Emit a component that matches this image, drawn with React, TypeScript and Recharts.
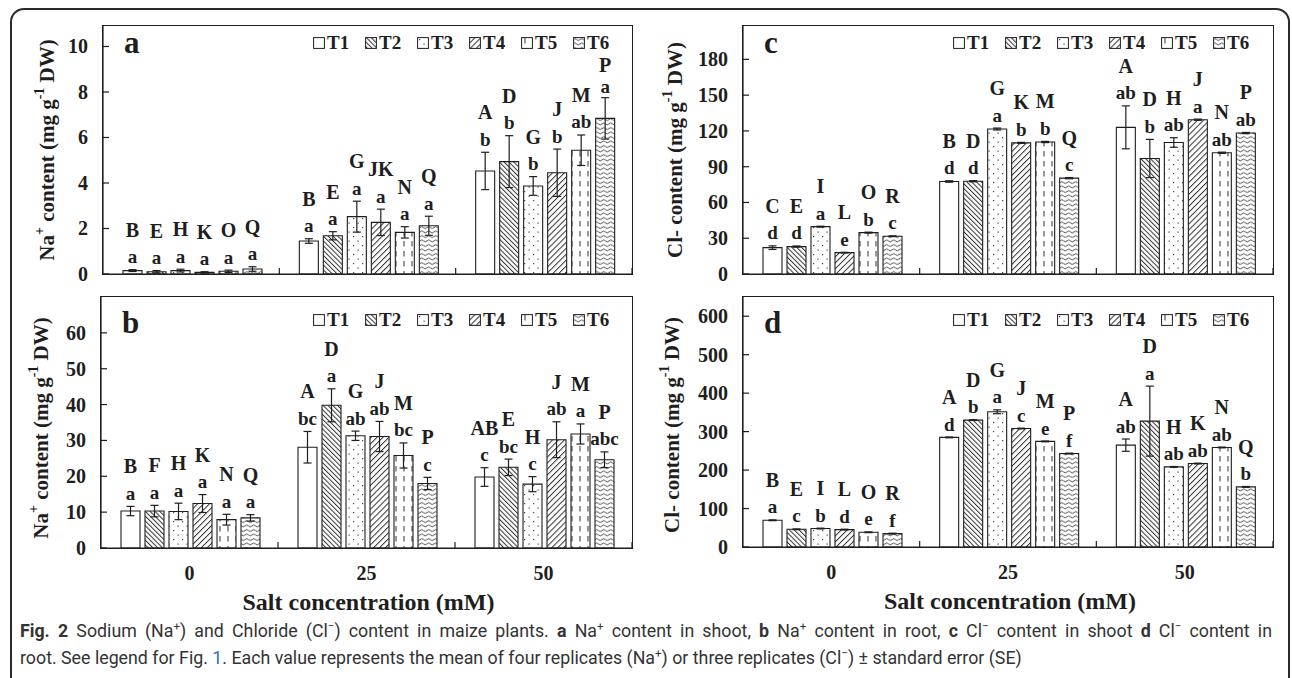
import React from 'react';
import { BarChart, Bar, XAxis, YAxis, ErrorBar, LabelList, Legend } from 'recharts';

const concentrations = ['0', '25', '50'];
const treatments = ['T1', 'T2', 'T3', 'T4', 'T5', 'T6'];
const fills = ['#fff', 'url(#hatchBack)', 'url(#dots)', 'url(#hatchFwd)', 'url(#dashV)', 'url(#wave)'];

// rows = T1..T6, columns = 0 / 25 / 50 mM
// a: Na+ in shoot
const naShootMean = [
  [0.15, 1.45, 4.53],
  [0.1, 1.68, 4.94],
  [0.15, 2.52, 3.87],
  [0.07, 2.27, 4.45],
  [0.12, 1.83, 5.44],
  [0.22, 2.12, 6.84],
];
const naShootSE = [
  [0.04, 0.1, 0.82],
  [0.05, 0.18, 1.14],
  [0.06, 0.68, 0.41],
  [0.03, 0.58, 1.04],
  [0.05, 0.25, 0.67],
  [0.1, 0.42, 0.91],
];
const naShootUpper = [
  ['B', 'B', 'A'],
  ['E', 'E', 'D'],
  ['H', 'G', 'G'],
  ['K', 'JK', 'J'],
  ['O', 'N', 'M'],
  ['Q', 'Q', 'P'],
];
const naShootLower = [
  ['a', 'a', 'b'],
  ['a', 'a', 'b'],
  ['a', 'a', 'b'],
  ['a', 'a', 'b'],
  ['a', 'a', 'ab'],
  ['a', 'a', 'a'],
];

// b: Na+ in root
const naRootMean = [
  [10.3, 28.1, 19.8],
  [10.3, 39.8, 22.5],
  [10.2, 31.3, 17.8],
  [12.4, 31.1, 30.2],
  [7.9, 25.8, 31.8],
  [8.4, 18.0, 24.6],
];
const naRootSE = [
  [1.3, 4.4, 2.6],
  [1.6, 4.6, 2.3],
  [2.3, 1.3, 2.1],
  [2.5, 4.2, 5.0],
  [1.5, 3.5, 2.8],
  [0.9, 1.7, 2.2],
];
const naRootUpper = [
  ['B', 'A', 'AB'],
  ['F', 'D', 'E'],
  ['H', 'G', 'H'],
  ['K', 'J', 'J'],
  ['N', 'M', 'M'],
  ['Q', 'P', 'P'],
];
const naRootLower = [
  ['a', 'bc', 'c'],
  ['a', 'a', 'bc'],
  ['a', 'ab', 'c'],
  ['a', 'ab', 'ab'],
  ['a', 'bc', 'a'],
  ['a', 'c', 'abc'],
];

// c: Cl- in shoot
const clShootMean = [
  [22.1, 77.6, 123.0],
  [23.0, 77.8, 96.9],
  [39.7, 121.6, 110.3],
  [17.9, 110.0, 129.4],
  [34.7, 110.7, 101.7],
  [31.7, 80.4, 118.2],
];
const clShootSE = [
  [1.5, 0.6, 18],
  [0.5, 0.5, 16],
  [0.4, 0.8, 4],
  [0.3, 0.4, 0.5],
  [0.4, 0.5, 0.5],
  [0.3, 0.5, 0.5],
];
const clShootUpper = [
  ['C', 'B', 'A'],
  ['E', 'D', 'D'],
  ['I', 'G', 'H'],
  ['L', 'K', 'J'],
  ['O', 'M', 'N'],
  ['R', 'Q', 'P'],
];
const clShootLower = [
  ['d', 'd', 'ab'],
  ['d', 'd', 'b'],
  ['a', 'a', 'ab'],
  ['e', 'b', 'a'],
  ['b', 'b', 'ab'],
  ['c', 'c', 'ab'],
];

// d: Cl- in root
const clRootMean = [
  [69.5, 284.9, 264.8],
  [46.0, 330.0, 327.3],
  [48.0, 351.6, 208.3],
  [45.3, 308.0, 217.0],
  [38.3, 274.5, 258.8],
  [34.9, 243.0, 156.3],
];
const clRootSE = [
  [1, 1, 16],
  [1, 1, 91],
  [1, 5, 1],
  [1, 1, 1],
  [1, 1, 1],
  [1, 1, 1],
];
const clRootUpper = [
  ['B', 'A', 'A'],
  ['E', 'D', 'D'],
  ['I', 'G', 'H'],
  ['L', 'J', 'K'],
  ['O', 'M', 'N'],
  ['R', 'P', 'Q'],
];
const clRootLower = [
  ['a', 'd', 'ab'],
  ['c', 'b', 'a'],
  ['b', 'a', 'ab'],
  ['d', 'c', 'ab'],
  ['e', 'e', 'ab'],
  ['f', 'f', 'b'],
];

const serif = '"Liberation Serif", "Times New Roman", serif';
const ink = '#1e1e1e';

const naTitle = (
  <>
    Na<tspan dy={-8} fontSize={14}>+</tspan>
    <tspan dy={8}> content (mg g</tspan>
    <tspan dy={-8} fontSize={14}>-1</tspan>
    <tspan dy={8}> DW)</tspan>
  </>
);
const clTitle = (
  <>
    Cl- content (mg g<tspan dy={-8} fontSize={14}>-1</tspan>
    <tspan dy={8}> DW)</tspan>
  </>
);

function Patterns() {
  return (
    <svg width={0} height={0} style={{ position: 'absolute' }}>
      <defs>
        <pattern id="hatchBack" width={3.4} height={3.4} patternUnits="userSpaceOnUse" patternTransform="rotate(-45)">
          <rect width={3.4} height={3.4} fill="#fff" />
          <line x1={0.5} y1={0} x2={0.5} y2={3.4} stroke="#333" strokeWidth={1} />
        </pattern>
        <pattern id="hatchFwd" width={4.2} height={4.2} patternUnits="userSpaceOnUse" patternTransform="rotate(45)">
          <rect width={4.2} height={4.2} fill="#fff" />
          <line x1={0.5} y1={0} x2={0.5} y2={4.2} stroke="#333" strokeWidth={1} />
        </pattern>
        <pattern id="dots" width={9} height={9} patternUnits="userSpaceOnUse">
          <rect width={9} height={9} fill="#fff" />
          <rect x={2} y={2} width={1.2} height={1.2} fill="#444" />
          <rect x={6.5} y={6.5} width={1.2} height={1.2} fill="#444" />
        </pattern>
        <pattern id="dashV" width={8} height={10} patternUnits="userSpaceOnUse">
          <rect width={8} height={10} fill="#fff" />
          <rect x={3.5} y={1} width={1} height={5.5} fill="#333" />
        </pattern>
        <pattern id="wave" width={7} height={4.5} patternUnits="userSpaceOnUse">
          <rect width={7} height={4.5} fill="#fff" />
          <path d="M0 2.5 Q1.75 0.6 3.5 2.5 T7 2.5" stroke="#333" strokeWidth={0.9} fill="none" />
        </pattern>
      </defs>
    </svg>
  );
}

type Rect = { l: number; t: number; r: number; b: number };

type PanelProps = {
  tag: string;
  tagDrop: number;
  yTitle: React.ReactNode;
  titleX: number;
  titleY: number;
  mean: number[][];
  se: number[][];
  upper: string[][];
  lower: string[][];
  yMax: number;
  yTicks: number[];
  box: { l: number; t: number; w: number; h: number };
  plot: Rect;
  legendY: number;
  showX: boolean;
};

function Panel(p: PanelProps) {
  const { box, plot } = p;
  const rows = concentrations.map((c, ci) => {
    const row: Record<string, string | number> = { conc: c };
    treatments.forEach((_, ti) => {
      row[`m${ti}`] = p.mean[ti][ci];
      row[`e${ti}`] = p.se[ti][ci];
    });
    return row;
  });
  const axisX = plot.l - box.l;
  const axisY = plot.b - box.t;
  const plotTop = plot.t - box.t;
  const plotW = plot.r - plot.l;
  const plotH = plot.b - plot.t;
  const band = plotW / concentrations.length;
  const ppu = plotH / p.yMax;

  const yTick = (tp: any) => (
    <g>
      <line x1={axisX} x2={axisX + 6} y1={tp.y} y2={tp.y} stroke={ink} strokeWidth={1.2} />
      <text x={axisX - 15} y={tp.y} textAnchor="end" dominantBaseline="central"
        style={{ fontFamily: serif, fontWeight: 700, fontSize: 20 }} fill={ink}>
        {tp.payload.value}
      </text>
    </g>
  );

  const xTick = (tp: any) => (
    <g>
      <line x1={tp.x + band / 2} x2={tp.x + band / 2} y1={axisY} y2={axisY - 6} stroke={ink} strokeWidth={1.2} />
      {p.showX && (
        <text x={tp.x} y={axisY + 25} textAnchor="middle" dominantBaseline="central"
          style={{ fontFamily: serif, fontWeight: 700, fontSize: 20 }} fill={ink}>
          {tp.payload.value}
        </text>
      )}
    </g>
  );

  const yLabel = () => (
    <g>
      <text transform={`translate(${p.titleX - box.l},${p.titleY - box.t}) rotate(-90)`}
        textAnchor="middle" dominantBaseline="central"
        style={{ fontFamily: serif, fontWeight: 700, fontSize: 21 }} fill={ink}>
        {p.yTitle}
      </text>
      <text x={axisX + 21} y={plotTop + p.tagDrop}
        style={{ fontFamily: serif, fontWeight: 700, fontSize: 31 }} fill={ink}>
        {p.tag}
      </text>
    </g>
  );

  const xLabel = () =>
    p.showX ? (
      <text x={axisX + plotW / 2 + 2} y={axisY + 54} textAnchor="middle" dominantBaseline="central"
        style={{ fontFamily: serif, fontWeight: 700, fontSize: 24 }} fill={ink}>
        Salt concentration (mM)
      </text>
    ) : null;

  const legend = () => (
    <div style={{ display: 'flex', alignItems: 'center', height: 22 }}>
      {treatments.map((t, i) => (
        <div key={t} style={{ width: 52, display: 'flex', alignItems: 'center', flex: 'none' }}>
          <svg width={12} height={12} style={{ marginRight: 2, flex: 'none' }}>
            <rect x={0.6} y={0.6} width={10.8} height={10.8} fill={fills[i]} stroke={ink} strokeWidth={1} />
          </svg>
          <span style={{ fontFamily: serif, fontWeight: 700, fontSize: 19, color: ink, lineHeight: '22px' }}>{t}</span>
        </div>
      ))}
    </div>
  );

  const letters = (ti: number) => (lp: any) => {
    const idx = lp.index as number;
    const cx = Number(lp.x) + Number(lp.width) / 2;
    const errTop = Number(lp.y) - Number(lp.value) * ppu;
    let lowY = errTop - 13;
    // keep the upper letter clear of the legend row
    const upY = Math.max(lowY - 27, plotTop + 39);
    lowY = Math.max(lowY, upY + 21);
    const st = { fontFamily: serif, fontWeight: 700 };
    return (
      <g>
        <text x={cx} y={upY} textAnchor="middle" dominantBaseline="central" style={{ ...st, fontSize: 20 }} fill={ink}>
          {p.upper[ti][idx]}
        </text>
        <text x={cx} y={lowY} textAnchor="middle" dominantBaseline="central" style={{ ...st, fontSize: 19 }} fill={ink}>
          {p.lower[ti][idx]}
        </text>
      </g>
    );
  };

  return (
    <div style={{ position: 'absolute', left: box.l, top: box.t, width: box.w, height: box.h }}>
      <BarChart
        width={box.w}
        height={box.h}
        data={rows}
        margin={{ top: plotTop, right: box.l + box.w - plot.r, bottom: 0, left: 0 }}
        barCategoryGap={20}
        barGap={5}
      >
        <XAxis dataKey="conc" height={box.t + box.h - plot.b} interval={0} tickLine={false}
          axisLine={{ stroke: ink, strokeWidth: 1.2 }} tick={xTick} label={xLabel} />
        <YAxis type="number" width={axisX} domain={[0, p.yMax]} ticks={p.yTicks} allowDataOverflow
          tickLine={false} axisLine={{ stroke: ink, strokeWidth: 1.2 }} tick={yTick} label={yLabel} />
        <Legend layout="horizontal" verticalAlign="middle" align="center" content={legend}
          wrapperStyle={{ left: 313, top: p.legendY - 11, width: 320, height: 22 }} />
        {treatments.map((t, ti) => (
          <Bar key={t} dataKey={`m${ti}`} name={t} fill={fills[ti]} stroke={ink} strokeWidth={1.1}
            isAnimationActive={false}>
            <ErrorBar dataKey={`e${ti}`} width={4} stroke={ink} strokeWidth={1.2} direction="y" />
            <LabelList dataKey={`e${ti}`} content={letters(ti)} />
          </Bar>
        ))}
      </BarChart>
      <div style={{
        position: 'absolute', left: axisX - 0.6, top: plotTop - 0.6, width: plotW + 1.2, height: plotH + 1.2,
        border: `1.2px solid ${ink}`, boxSizing: 'border-box', pointerEvents: 'none',
      }} />
    </div>
  );
}

const capStyle: React.CSSProperties = {
  position: 'absolute', left: 20, whiteSpace: 'nowrap', fontFamily: 'Roboto, "Noto Sans", sans-serif',
  fontSize: 17.8, lineHeight: '20px', color: '#333',
};
const sup: React.CSSProperties = { fontSize: '0.65em', verticalAlign: 'super', lineHeight: 0 };

export default function App() {
  return (
    <div style={{ position: 'absolute', left: 0, top: 0, width: 1292, height: 678, overflow: 'hidden', background: '#fff' }}>
      <Patterns />
      <div style={{
        position: 'absolute', left: 10, top: 8, width: 1280, height: 720,
        border: '2px solid #2a2a2a', borderRadius: 14, boxSizing: 'border-box',
      }} />
      <Panel tag="a" tagDrop={27} yTitle={naTitle} titleX={47} titleY={150}
        mean={naShootMean} se={naShootSE} upper={naShootUpper} lower={naShootLower}
        yMax={10.9} yTicks={[0, 2, 4, 6, 8, 10]}
        box={{ l: 0, t: 0, w: 640, h: 285 }} plot={{ l: 103, t: 26, r: 632, b: 274 }}
        legendY={43} showX={false} />
      <Panel tag="c" tagDrop={27} yTitle={clTitle} titleX={675} titleY={150}
        mean={clShootMean} se={clShootSE} upper={clShootUpper} lower={clShootLower}
        yMax={208} yTicks={[0, 30, 60, 90, 120, 150, 180]}
        box={{ l: 640, t: 0, w: 652, h: 285 }} plot={{ l: 743, t: 26, r: 1273, b: 274 }}
        legendY={43} showX={false} />
      <Panel tag="b" tagDrop={36} yTitle={naTitle} titleX={41} titleY={428}
        mean={naRootMean} se={naRootSE} upper={naRootUpper} lower={naRootLower}
        yMax={70} yTicks={[0, 10, 20, 30, 40, 50, 60]}
        box={{ l: 0, t: 285, w: 640, h: 340 }} plot={{ l: 101, t: 297, r: 632, b: 548 }}
        legendY={35} showX />
      <Panel tag="d" tagDrop={36} yTitle={clTitle} titleX={672} titleY={425}
        mean={clRootMean} se={clRootSE} upper={clRootUpper} lower={clRootLower}
        yMax={650} yTicks={[0, 100, 200, 300, 400, 500, 600]}
        box={{ l: 640, t: 285, w: 652, h: 340 }} plot={{ l: 743, t: 297, r: 1273, b: 547 }}
        legendY={35} showX />
      <div style={{ ...capStyle, top: 621, width: 1252, whiteSpace: 'normal', textAlign: 'justify', textAlignLast: 'justify' }}>
        <b>Fig. 2</b> Sodium (Na<span style={sup}>+</span>) and Chloride (Cl<span style={sup}>−</span>) content in maize plants.{' '}
        <b>a</b> Na<span style={sup}>+</span> content in shoot, <b>b</b> Na<span style={sup}>+</span> content in root,{' '}
        <b>c</b> Cl<span style={sup}>−</span> content in shoot <b>d</b> Cl<span style={sup}>−</span> content in
      </div>
      <div style={{ ...capStyle, top: 648 }}>
        root. See legend for Fig. <span style={{ color: '#2a6ebb' }}>1</span>. Each value represents the mean of four replicates
        (Na<span style={sup}>+</span>) or three replicates (Cl<span style={sup}>−</span>) ± standard error (SE)
      </div>
    </div>
  );
}
